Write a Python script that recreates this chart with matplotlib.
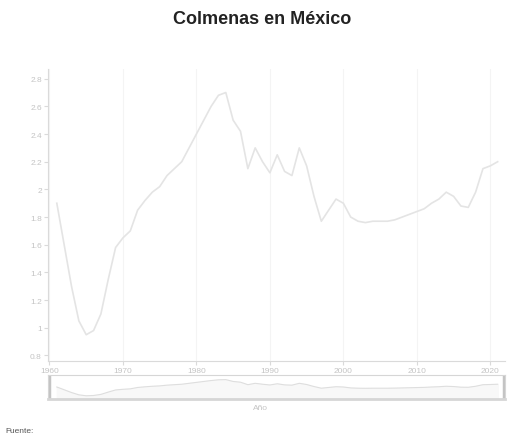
import matplotlib
matplotlib.use("Agg")
import matplotlib.pyplot as plt
import numpy as np

# Datos (millones de colmenas, estimados de la imagen)
anios = list(range(1961, 2022))
colmenas = [1.90, 1.60, 1.30, 1.05, 0.95, 0.98, 1.10, 1.35, 1.58, 1.65,
            1.70, 1.85, 1.92, 1.98, 2.02, 2.10, 2.15, 2.20, 2.30, 2.40,
            2.50, 2.60, 2.68, 2.70, 2.50, 2.42, 2.15, 2.30, 2.20, 2.12,
            2.25, 2.13, 2.10, 2.30, 2.17, 1.95, 1.77, 1.85, 1.93, 1.90,
            1.80, 1.77, 1.76, 1.77, 1.77, 1.77, 1.78, 1.80, 1.82, 1.84,
            1.86, 1.90, 1.93, 1.98, 1.95, 1.88, 1.87, 1.98, 2.15, 2.17,
            2.20]
xticks = [1960, 1970, 1980, 1990, 2000, 2010, 2020]
yticks = [0.8, 1.0, 1.2, 1.4, 1.6, 1.8, 2.0, 2.2, 2.4, 2.6, 2.8]

plt.rcParams["font.family"] = ["Liberation Sans", "DejaVu Sans"]

gris = "#dadada"
gris_txt = "#c4c4c4"

fig = plt.figure(figsize=(5.07, 4.39), dpi=100)
fig.patch.set_facecolor("white")

# grafica principal
ax = fig.add_axes([48/507, 1-362/439, 457/507, 292/439])
ax.plot(anios, colmenas, color="#e4e4e4", lw=1.2)
ax.set_xlim(1959.8, 2022)
ax.set_ylim(0.76, 2.87)
ax.set_xticks(xticks)
ax.set_yticks(yticks)
ax.set_yticklabels([f"{v:g}" for v in yticks])
ax.tick_params(colors=gris, labelcolor=gris_txt, labelsize=6, length=3, pad=1.5)
for s in ["top", "right"]:
    ax.spines[s].set_visible(False)
for s in ["left", "bottom"]:
    ax.spines[s].set_color(gris)
ax.grid(axis="x", color="#f4f4f4", lw=0.8)

# navegador
nav = fig.add_axes([48/507, 1-400/439, 457/507, 24/439])
nav.plot(anios, colmenas, color="#dedede", lw=0.8)
nav.fill_between(anios, colmenas, 0.6, color="#f8f8f8")
nav.set_xlim(1959.8, 2022)
nav.set_ylim(0.6, 3.2)
nav.set_xticks([])
nav.set_yticks([])
for s in nav.spines.values():
    s.set_color("#d6d6d6")
nav.spines["bottom"].set_linewidth(2)
nav.axvline(1959.9, color="#c4c4c4", lw=2.5)
nav.axvline(2021.9, color="#c4c4c4", lw=2.5)

fig.text(262/507, 1-19/439, "Colmenas en México", ha="center", va="center",
         fontsize=13, fontweight="bold", color="#222222")
fig.text(260/507, 1-409/439, "Año", ha="center", va="center",
         fontsize=6, color=gris_txt)
fig.text(5/507, 1-432/439, "Fuente:", ha="left", va="center",
         fontsize=6, color="#555555")

fig.savefig("out.png", dpi=100)
